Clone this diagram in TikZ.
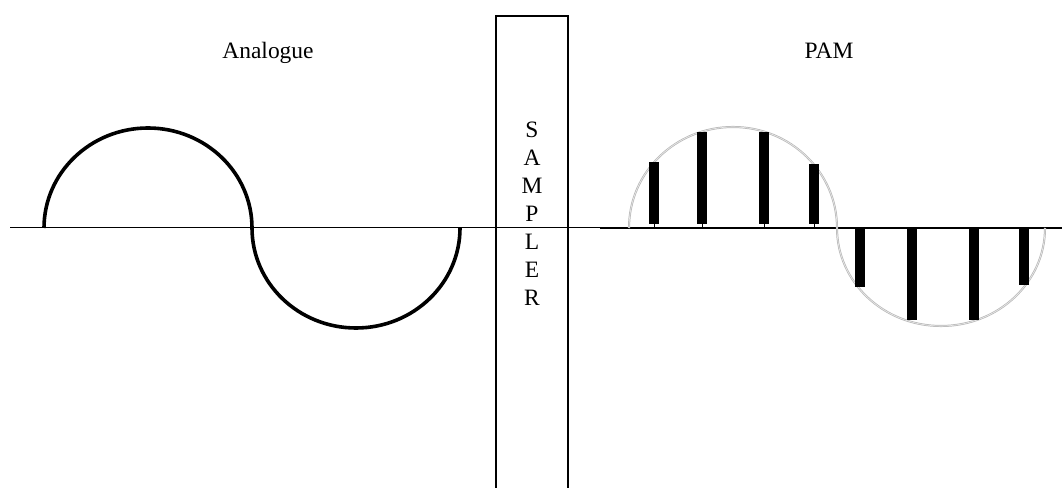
\documentclass[tikz,border=0pt]{standalone}
\usepackage{fontspec}
\setmainfont{Liberation Serif}
\usepackage{tikz}

\begin{document}
\begin{tikzpicture}[x=0.75pt,y=0.75pt,
  lbl/.style={font=\fontsize{17.6}{21}\selectfont,inner sep=0pt},
  wave/.style={line width=2.7pt},
  ghost/.style={draw=black!28,double=black!8,double distance=0.45pt,line width=0.55pt},
  pulse/.style={fill=black,draw=none}]
  \useasboundingbox (0,-260) rectangle (1062,228);
  \clip (0,-260) rectangle (1062,228);
  % axes
  \coordinate (axL) at (10,0);
  \coordinate (axM) at (600,0);
  \coordinate (axR) at (1062,0);
  \draw[line width=0.75pt] (axL) -- (axM);
  \draw[line width=1.5pt] (axM) -- (axR);
  % sampler
  \draw[line width=0.9pt] (496,-262) -- (496,212) -- (568,212) -- (568,-262);
  \node[lbl,align=center] (smp) at (532,14) {S\\A\\M\\P\\L\\E\\R};
  \node[lbl,anchor=base] (ana) at (268,169) {Analogue};
  \node[lbl,anchor=base] (pam) at (829,169) {PAM};
  % analogue wave
  \draw[wave] (44,0) arc[start angle=180,end angle=0,x radius=104,y radius=100]
    arc[start angle=180,end angle=360,x radius=104,y radius=100];
  % sampled wave
  \draw[ghost] (629,0) arc[start angle=180,end angle=0,x radius=104,y radius=101]
    arc[start angle=180,end angle=360,x radius=104,y radius=98];
  \foreach \px/\top in {654/66,702/96,764/96,814/64}{
    \draw[line width=0.6pt] (\px,0) -- (\px,4);
    \fill[pulse] (\px-5,4) rectangle (\px+5,\top);
  }
  \foreach \px/\bot in {859.5/-59,912/-92,974/-92,1024/-57}
    \fill[pulse] (\px-5,1) rectangle (\px+5,\bot);
\end{tikzpicture}
\end{document}
